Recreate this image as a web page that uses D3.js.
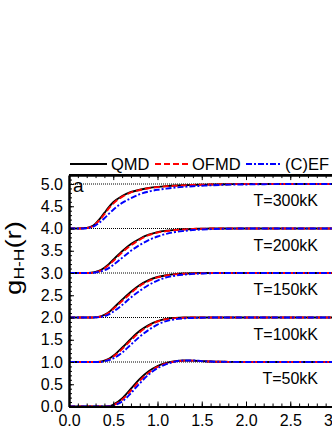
<!DOCTYPE html>
<html><head><meta charset="utf-8">
<script src="https://cdn.jsdelivr.net/npm/d3@7"></script>
<style>body{margin:0;background:#fff}svg{display:block}text{font-family:"Liberation Sans",Arial,sans-serif}</style>
</head><body><svg id="c" width="332" height="430"></svg>
<script>
const rGrid = [0, 0.1, 0.2, 0.25, 0.3, 0.35, 0.4, 0.45, 0.5, 0.6, 0.7, 0.8, 0.9, 1.0, 1.1, 1.2, 1.3, 1.4, 1.5, 1.6, 1.8, 2.0, 2.5, 3.0];
const temps = ["T=50kK", "T=100kK", "T=150kK", "T=200kK", "T=300kK"];
const offsets = [0, 1, 2, 3, 4];
// g(r) values (before offset) on rGrid
const qmd50   = [0,0,0,0,0,0,0,0.005,0.04,0.18,0.40,0.62,0.79,0.91,0.98,1.02,1.035,1.03,1.02,1.01,1.003,1.0,1.0,1.0];
const ofmd50  = [0,0,0,0,0,0,0,0.004,0.03,0.15,0.36,0.58,0.76,0.89,0.97,1.01,1.03,1.03,1.02,1.01,1.003,1.0,1.0,1.0];
const cef50   = [0,0,0,0,0,0,0,0.002,0.02,0.11,0.30,0.52,0.72,0.86,0.95,1.01,1.035,1.035,1.02,1.01,1.003,1.0,1.0,1.0];
const qmd100  = [0,0,0,0,0,0.005,0.03,0.07,0.14,0.32,0.52,0.70,0.83,0.92,0.97,0.99,1.0,1.0,1.0,1.0,1.0,1.0,1.0,1.0];
const ofmd100 = [0,0,0,0,0,0.004,0.025,0.06,0.12,0.29,0.49,0.67,0.81,0.91,0.96,0.985,0.995,1.0,1.0,1.0,1.0,1.0,1.0,1.0];
const cef100  = [0,0,0,0,0,0.002,0.015,0.04,0.08,0.21,0.39,0.57,0.72,0.84,0.92,0.96,0.98,0.99,0.995,1.0,1.0,1.0,1.0,1.0];
const qmd150  = [0,0,0,0,0.005,0.02,0.06,0.12,0.21,0.40,0.58,0.73,0.84,0.91,0.95,0.975,0.988,0.995,1.0,1.0,1.0,1.0,1.0,1.0];
const ofmd150 = [0,0,0,0,0.004,0.017,0.05,0.11,0.19,0.37,0.55,0.71,0.82,0.90,0.945,0.97,0.983,0.99,0.995,1.0,1.0,1.0,1.0,1.0];
const cef150  = [0,0,0,0,0.002,0.01,0.03,0.07,0.13,0.28,0.45,0.60,0.73,0.83,0.90,0.94,0.963,0.98,0.988,0.995,1.0,1.0,1.0,1.0];
const qmd200  = [0,0,0,0.005,0.025,0.06,0.12,0.20,0.30,0.49,0.65,0.77,0.86,0.92,0.95,0.97,0.982,0.99,0.995,1.0,1.0,1.0,1.0,1.0];
const ofmd200 = [0,0,0,0.004,0.02,0.05,0.10,0.18,0.27,0.46,0.62,0.75,0.85,0.91,0.94,0.965,0.978,0.99,0.995,1.0,1.0,1.0,1.0,1.0];
const cef200  = [0,0,0,0.002,0.01,0.03,0.06,0.11,0.18,0.34,0.50,0.63,0.74,0.82,0.88,0.92,0.945,0.965,0.977,0.985,0.995,1.0,1.0,1.0];
const qmd300  = [0,0,0.01,0.04,0.11,0.22,0.35,0.48,0.59,0.73,0.82,0.87,0.91,0.935,0.952,0.965,0.973,0.98,0.985,0.99,0.996,1.0,1.0,1.0];
const ofmd300 = [0,0,0.01,0.035,0.10,0.20,0.32,0.45,0.56,0.71,0.81,0.865,0.905,0.93,0.948,0.96,0.97,0.98,0.985,0.99,0.996,1.0,1.0,1.0];
const cef300  = [0,0,0.007,0.025,0.07,0.14,0.23,0.33,0.42,0.575,0.68,0.77,0.83,0.87,0.895,0.92,0.937,0.95,0.96,0.97,0.985,0.99,1.0,1.0];

const seriesNames = ["QMD", "OFMD", "(C)EF"];
const seriesData = [
  [qmd50, qmd100, qmd150, qmd200, qmd300],
  [ofmd50, ofmd100, ofmd150, ofmd200, ofmd300],
  [cef50, cef100, cef150, cef200, cef300]
];
const xTicks = [0, 0.5, 1.0, 1.5, 2.0, 2.5, 3.0];
const yTicks = [0, 0.5, 1.0, 1.5, 2.0, 2.5, 3.0, 3.5, 4.0, 4.5, 5.0];
const refLines = [1, 2, 3, 4, 5];

const colors = ["#000000", "#ff0000", "#0000ff"];
const dashes = [null, "6,3", "6,2,2,2"];

const svg = d3.select("#c");
const L = 69, R = 334.5, T = 175.1, B = 406.5;
const x = d3.scaleLinear().domain([0, 3]).range([L, R]);
const y = d3.scaleLinear().domain([0, 5.2]).range([B, T]);

// reference dotted lines
svg.append("g").selectAll("line").data(refLines).join("line")
  .attr("x1", L).attr("x2", 332).attr("y1", d => y(d)).attr("y2", d => y(d))
  .attr("stroke", "#000").attr("stroke-width", 1).attr("stroke-dasharray", "1,1");

// curves
const line = d3.line().x(d => x(d[0])).y(d => y(d[1])).curve(d3.curveMonotoneX);
seriesData.forEach((sets, si) => {
  sets.forEach((vals, ti) => {
    const pts = rGrid.map((r, i) => [r, vals[i] + offsets[ti]]);
    svg.append("path").attr("d", line(pts)).attr("fill", "none")
      .attr("stroke", colors[si]).attr("stroke-width", 1.9)
      .attr("stroke-dasharray", dashes[si]);
  });
});

// axes
const xMinor = d3.range(0, 3.001, 0.1);
const yMinor = d3.range(0, 5.2, 0.1);
const ax = svg.append("g");
ax.append("g").attr("transform", `translate(0,${B})`)
  .call(d3.axisBottom(x).tickValues(xTicks).tickFormat(d3.format(".1f")).tickSizeInner(-5).tickSizeOuter(0).tickPadding(8));
ax.append("g").attr("transform", `translate(0,${B})`)
  .call(d3.axisBottom(x).tickValues(xMinor).tickFormat("").tickSizeInner(-3).tickSizeOuter(0));
ax.append("g").attr("transform", `translate(0,${T})`)
  .call(d3.axisTop(x).tickValues(xTicks).tickFormat("").tickSizeInner(-5).tickSizeOuter(0));
ax.append("g").attr("transform", `translate(0,${T})`)
  .call(d3.axisTop(x).tickValues(xMinor).tickFormat("").tickSizeInner(-3).tickSizeOuter(0));
ax.append("g").attr("transform", `translate(${L},0)`)
  .call(d3.axisLeft(y).tickValues(yTicks).tickFormat(d3.format(".1f")).tickSizeInner(-5).tickSizeOuter(0).tickPadding(6));
ax.append("g").attr("transform", `translate(${L},0)`)
  .call(d3.axisLeft(y).tickValues(yMinor).tickFormat("").tickSizeInner(-3).tickSizeOuter(0));
ax.selectAll(".domain").attr("stroke", "#000").attr("stroke-width", 2);
ax.selectAll(".tick line").attr("stroke", "#000").attr("stroke-width", 1);
ax.selectAll(".tick text").attr("font-family", "Liberation Sans, Arial, sans-serif").attr("font-size", 16).attr("fill", "#000");
// top frame line
svg.append("line").attr("x1", L).attr("x2", 332).attr("y1", T).attr("y2", T).attr("stroke", "#000").attr("stroke-width", 2);

// temperature labels
svg.append("g").selectAll("text").data(temps).join("text")
  .attr("x", 318).attr("y", (d, i) => y(offsets[i] + 0.5))
  .attr("text-anchor", "end").attr("font-size", 16).text(d => d);

svg.append("text").attr("x", 73).attr("y", 192).attr("font-size", 19).text("a");

// legend
const legLine = [[70, 107], [155, 188], [246, 280]];
const legText = [111, 192, 285];
const lg = svg.append("g");
seriesNames.forEach((n, i) => {
  lg.append("line").attr("x1", legLine[i][0]).attr("x2", legLine[i][1]).attr("y1", 164).attr("y2", 164)
    .attr("stroke", colors[i]).attr("stroke-width", 1.9).attr("stroke-dasharray", dashes[i]);
  lg.append("text").attr("x", legText[i]).attr("y", 170).attr("font-size", 16.5).text(n);
});

// y title
const yt = svg.append("text").attr("transform", "translate(21,258) rotate(-90) scale(1.25,1)").attr("text-anchor", "middle");
yt.append("tspan").attr("font-size", 22).text("g");
yt.append("tspan").attr("font-size", 14).attr("dy", 3).text("H-H");
yt.append("tspan").attr("font-size", 22).attr("dy", -3).text("(r)");
</script></body></html>
